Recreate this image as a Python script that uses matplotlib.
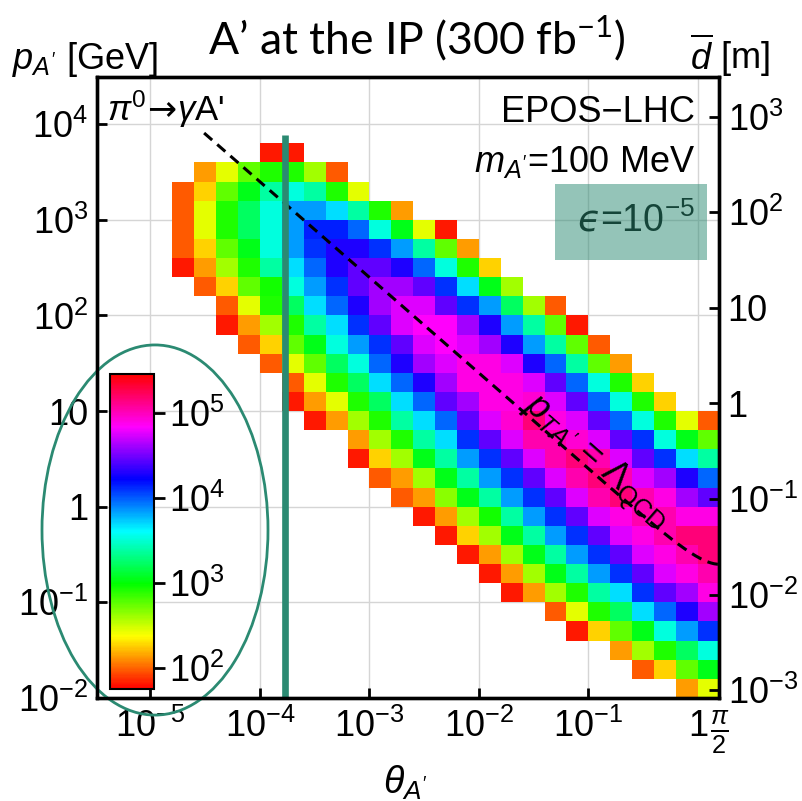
import numpy as np
import matplotlib
matplotlib.use('Agg')
import matplotlib.pyplot as plt
from matplotlib.colors import ListedColormap, LogNorm, hsv_to_rgb
from matplotlib.patches import Ellipse, Rectangle
from matplotlib.ticker import FixedLocator, FixedFormatter, NullLocator

plt.rcParams['font.family'] = ['Liberation Sans', 'DejaVu Sans']
plt.rcParams['mathtext.fontset'] = 'custom'
plt.rcParams['mathtext.rm'] = 'Liberation Sans'
plt.rcParams['mathtext.it'] = 'Liberation Sans:italic'
plt.rcParams['mathtext.bf'] = 'Liberation Sans:bold'
plt.rcParams['mathtext.sf'] = 'DejaVu Sans'
plt.rcParams['mathtext.tt'] = 'DejaVu Sans:italic'

## Data
# bins are 0.2 decades wide in log10(theta) and log10(p)
theta_edges_log = np.round(np.arange(-4.8, 0.21, 0.2), 1)   # 25 columns
p_edges_log = np.round(np.arange(-2.0, 3.81, 0.2), 1)       # 29 rows

# rows from top (p in 10^3.6..10^3.8) down to bottom (10^-2..10^-1.8)
# first filled column of each row, then log10(counts) of each filled cell
row_first_col = [4, 1, 0, 0, 0, 0, 0, 1, 2, 2, 3, 4, 5, 5, 6,
                 8, 8, 9, 10, 11, 12, 13, 14, 15, 17, 18, 20, 21, 23]
row_logcounts = [
    [1.82, 1.82],
    [2.14, 2.44, 2.76, 2.91, 2.91, 2.60, 1.98],
    [1.98, 2.27, 2.76, 3.05, 3.38, 3.53, 3.38, 2.91, 2.44],
    [1.98, 2.44, 2.91, 3.22, 3.53, 3.84, 3.84, 3.68, 3.38, 2.91, 2.14],
    [1.98, 2.44, 2.91, 3.22, 3.53, 3.84, 4.15, 4.15, 3.98, 3.53, 3.05, 2.44, 1.82],
    [1.98, 2.27, 2.76, 3.05, 3.53, 3.84, 4.11, 4.30, 4.30, 4.11, 3.84, 3.38, 2.76, 2.14],
    [1.82, 2.14, 2.60, 2.91, 3.38, 3.68, 3.98, 4.30, 4.45, 4.45, 4.30, 3.98, 3.53, 2.91, 2.27],
    [1.98, 2.27, 2.76, 2.95, 3.53, 3.84, 4.11, 4.45, 4.61, 4.61, 4.45, 4.11, 3.68, 3.05, 2.60],
    [1.98, 2.44, 2.91, 3.22, 3.68, 3.98, 4.30, 4.61, 4.76, 4.76, 4.45, 4.11, 3.84, 3.22, 2.60, 1.98],
    [1.82, 2.14, 2.60, 2.91, 3.38, 3.68, 4.11, 4.45, 4.76, 4.85, 4.85, 4.61, 4.30, 3.84, 3.38, 2.76, 1.82],
    [1.98, 2.27, 2.76, 3.05, 3.53, 3.84, 4.11, 4.45, 4.76, 4.85, 4.76, 4.61, 4.30, 3.84, 3.38, 2.76, 1.98],
    [1.98, 2.44, 2.76, 3.22, 3.53, 3.98, 4.30, 4.61, 4.76, 4.90, 4.90, 4.76, 4.30, 3.98, 3.38, 2.76, 2.14],
    [1.98, 2.44, 2.91, 3.22, 3.68, 3.98, 4.30, 4.61, 4.90, 4.90, 4.90, 4.76, 4.45, 3.98, 3.53, 2.91, 2.27],
    [1.82, 2.14, 2.44, 2.91, 3.22, 3.68, 3.98, 4.45, 4.61, 4.90, 4.90, 4.95, 4.76, 4.45, 3.98, 3.53, 2.91, 2.27],
    [1.82, 2.14, 2.60, 2.91, 3.38, 3.68, 3.98, 4.45, 4.76, 4.95, 5.16, 4.90, 4.76, 4.45, 3.98, 3.53, 2.91, 2.44, 1.98],
    [2.14, 2.60, 2.91, 3.38, 3.68, 4.11, 4.45, 4.76, 5.03, 5.03, 4.95, 4.76, 4.45, 4.11, 3.53, 3.05, 2.76],
    [1.82, 2.27, 2.60, 3.05, 3.38, 3.84, 4.11, 4.45, 4.76, 5.03, 5.16, 5.03, 4.76, 4.45, 4.11, 3.68, 3.38],
    [1.98, 2.14, 2.60, 3.05, 3.38, 3.84, 4.11, 4.45, 4.76, 5.03, 5.16, 5.03, 4.76, 4.61, 4.30, 3.98],
    [1.98, 2.14, 2.65, 3.05, 3.38, 3.84, 4.11, 4.45, 4.76, 5.03, 5.16, 5.03, 4.90, 4.61, 4.45],
    [1.82, 2.14, 2.60, 2.95, 3.38, 3.84, 4.11, 4.45, 4.76, 4.90, 5.03, 5.03, 4.90, 4.90],
    [1.82, 2.27, 2.60, 3.05, 3.38, 3.84, 4.11, 4.45, 4.76, 4.90, 5.03, 5.16, 5.16],
    [1.82, 2.14, 2.60, 3.05, 3.38, 3.84, 4.11, 4.45, 4.76, 4.90, 5.03, 5.16],
    [1.82, 2.14, 2.60, 3.05, 3.38, 3.84, 4.11, 4.45, 4.76, 4.90, 5.03],
    [1.82, 2.14, 2.60, 2.91, 3.38, 3.68, 4.11, 4.45, 4.61, 4.90],
    [1.98, 2.44, 2.91, 3.22, 3.68, 3.98, 4.30, 4.61],
    [1.82, 2.27, 2.76, 3.05, 3.53, 3.84, 4.11],
    [2.14, 2.60, 2.91, 3.22, 3.53],
    [1.98, 2.27, 2.76, 3.05],
    [2.14, 2.44],
]

theta_cut = 1.7e-4        # vertical line
theta_cut_top = 7.8e3     # its upper end in p
lambda_qcd = 0.25         # GeV, p_T = Lambda_QCD line
theta_line_start = 10 ** -4.51
d_per_p = 10 ** -1.08     # mean decay length [m] per GeV

x_ticks = [1e-5, 1e-4, 1e-3, 1e-2, 1e-1, 1, np.pi / 2]
x_labels = ['$10^{-5}$', '$10^{-4}$', '$10^{-3}$', '$10^{-2}$', '$10^{-1}$', '1',
            r'$\frac{\pi}{2}$']
y_ticks = [1e-2, 1e-1, 1, 10, 1e2, 1e3, 1e4]
y_labels = ['$10^{-2}$', '$10^{-1}$', '1', '10', '$10^{2}$', '$10^{3}$', '$10^{4}$']
d_ticks = [1e-3, 1e-2, 1e-1, 1, 10, 1e2, 1e3]
d_labels = ['$10^{-3}$', '$10^{-2}$', '$10^{-1}$', '1', '10', '$10^{2}$', '$10^{3}$']
cb_ticks = [1e2, 1e3, 1e4, 1e5]
cb_labels = ['$10^{2}$', '$10^{3}$', '$10^{4}$', '$10^{5}$']

# grid of counts, bottom row first
n_rows = len(row_logcounts)
counts = np.full((n_rows, len(theta_edges_log) - 1), np.nan)
for i, (c0, vals) in enumerate(zip(row_first_col, row_logcounts)):
    counts[n_rows - 1 - i, c0:c0 + len(vals)] = 10 ** np.array(vals)

hues = np.linspace(0, 1, 256)
cmap = ListedColormap(hsv_to_rgb(np.stack([hues, np.ones(256), np.ones(256)], axis=1)))
norm = LogNorm(vmin=10 ** 1.75, vmax=10 ** 5.46)

teal = '#2b8a72'
fs = 26

fig = plt.figure(figsize=(8.02, 8.01), dpi=100)
ax = fig.add_axes([0.1206, 0.1286, 0.7763, 0.7753])
ax.set_xscale('log')
ax.set_yscale('log')
ax.set_xlim(10 ** -5.491, np.pi / 2)
ax.set_ylim(1e-2, 10 ** 4.494)
ax.set_axisbelow(True)

ax.pcolormesh(10 ** theta_edges_log, 10 ** p_edges_log, np.ma.masked_invalid(counts),
              cmap=cmap, norm=norm)

ax.xaxis.set_major_locator(FixedLocator(x_ticks))
ax.xaxis.set_major_formatter(FixedFormatter(x_labels))
ax.yaxis.set_major_locator(FixedLocator(y_ticks))
ax.yaxis.set_major_formatter(FixedFormatter(y_labels))
ax.xaxis.set_minor_locator(NullLocator())
ax.yaxis.set_minor_locator(NullLocator())
ax.tick_params(direction='in', length=7, width=2, labelsize=fs, pad=6,
               top=False, right=False)
ax.tick_params(axis='x', pad=8)
for s in ax.spines.values():
    s.set_linewidth(2.4)
ax.grid(True, which='major', color='#d5d5d5', lw=1.0)

# right axis: mean decay length
axr = ax.twinx()
axr.set_yscale('log')
axr.set_ylim(1e-2 * d_per_p, 10 ** 4.494 * d_per_p)
axr.yaxis.set_major_locator(FixedLocator(d_ticks))
axr.yaxis.set_major_formatter(FixedFormatter(d_labels))
axr.yaxis.set_minor_locator(NullLocator())
axr.tick_params(direction='in', length=7, width=2, labelsize=fs, pad=6)
for s in axr.spines.values():
    s.set_linewidth(2.4)

# p_T = Lambda_QCD
th = np.logspace(np.log10(theta_line_start), np.log10(np.pi / 2), 300)
ax.plot(th, lambda_qcd / np.sin(th), color='black', lw=2.2, ls=(0, (3.5, 2.2)))
ax.text(0.802, 0.379, r"$p_{TA'}$ = $\Lambda_{\mathrm{QCD}}$", transform=ax.transAxes,
        rotation=-41.2, ha='center', va='center', fontsize=26, rotation_mode='anchor')

ax.plot([theta_cut, theta_cut], [1e-2, theta_cut_top], color=teal, lw=4.8,
        solid_capstyle='butt')

# annotations
ax.text(0.017, 0.9295, r"$\pi^0\!\mathsf{\rightarrow}\!\gamma$A'", transform=ax.transAxes,
        fontsize=25, ha='left', va='baseline')
ax.text(0.961, 0.9275, 'EPOS\u2212LHC', transform=ax.transAxes, fontsize=26,
        ha='right', va='baseline')
ax.text(0.961, 0.847, r"$m_{A'}$=100 MeV", transform=ax.transAxes, fontsize=26,
        ha='right', va='baseline')
ax.text(0.961, 0.7504, '$\\mathtt{\u03f5}$=10$^{-5}$', transform=ax.transAxes, fontsize=27,
        ha='right', va='baseline', zorder=5)
ax.add_patch(Rectangle((0.7361, 0.7053), 0.2441, 0.1224, transform=ax.transAxes,
                       facecolor=teal, alpha=0.5, edgecolor='none', zorder=6))

# colour bar inside the frame, circled
cax = ax.inset_axes([0.0214, 0.0145, 0.0707, 0.507])
cb = fig.colorbar(matplotlib.cm.ScalarMappable(norm=norm, cmap=cmap), cax=cax)
cb.set_ticks(cb_ticks)
cb.set_ticklabels(cb_labels)
cb.ax.yaxis.set_minor_locator(NullLocator())
cb.ax.tick_params(labelsize=fs, length=8, width=2, pad=3)
cb.outline.set_linewidth(1.5)
ax.add_patch(Ellipse((0.0936, 0.2705), 0.363, 0.596, transform=ax.transAxes,
                     facecolor='none', edgecolor=teal, lw=2, clip_on=False, zorder=7))

# axis titles
fig.text(12 / 802, 1 - 69 / 801, r"$p_{A'}$ [GeV]", fontsize=26, ha='left', va='baseline')
fig.text(770 / 802, 1 - 69 / 801, r'$\overline{d}$ [m]', fontsize=26, ha='right',
         va='baseline')
fig.text(405 / 802, 1 - 764 / 801, r"$\theta_{A'}$", fontsize=27, ha='center', va='top')
fig.text(417 / 802, 1 - 54 / 801, 'A\u2019 at the IP (300 fb$^{\\mathregular{-1}}$)',
         family='Lato', fontsize=32, ha='center', va='baseline')

fig.savefig('out.png', dpi=100)
